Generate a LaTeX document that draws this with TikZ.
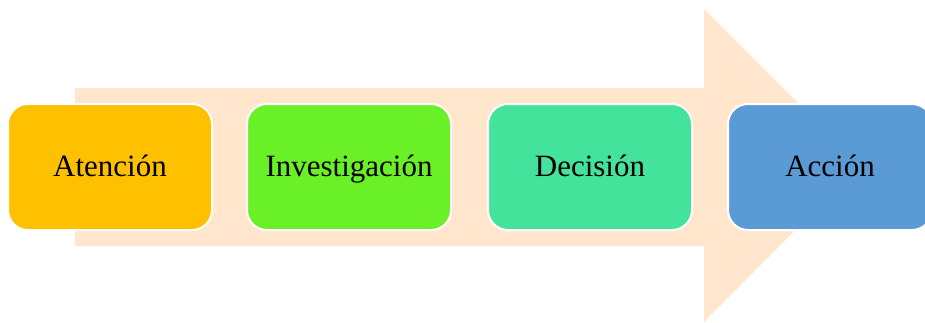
\documentclass[tikz,border=0pt]{standalone}
\usepackage{fontspec}
\setmainfont{Liberation Serif}
\definecolor{peach}{HTML}{FFE6CC}
\definecolor{cAtencion}{HTML}{FFC000}
\definecolor{cInvest}{HTML}{6AF027}
\definecolor{cDecision}{HTML}{44E39C}
\definecolor{cAccion}{HTML}{5B9BD5}
\begin{document}
\begin{tikzpicture}[x=1pt,y=-1pt,
  stagebox/.style={draw=white, line width=2pt, rounded corners=20pt,
    minimum width=204pt, minimum height=126pt, inner sep=0pt,
    text height=24pt, text depth=5pt,
    font=\fontsize{31}{36}\selectfont, text=black}]
  \useasboundingbox (0,0) rectangle (925,322);
  \clip (0,0) rectangle (925,322);
  % broad background arrow
  \fill[peach] (75,88) -- (704,88) -- (704,9) -- (860,165) -- (704,322)
    -- (704,246) -- (75,246) -- cycle;
  % stages
  \node[stagebox, fill=cAtencion] (a) at (110,167) {Atención};
  \node[stagebox, fill=cInvest] (b) at (349,167) {Investigación};
  \node[stagebox, fill=cDecision] (c) at (590,167) {Decisión};
  \node[stagebox, fill=cAccion] (d) at (830,167) {Acción};
\end{tikzpicture}
\end{document}
